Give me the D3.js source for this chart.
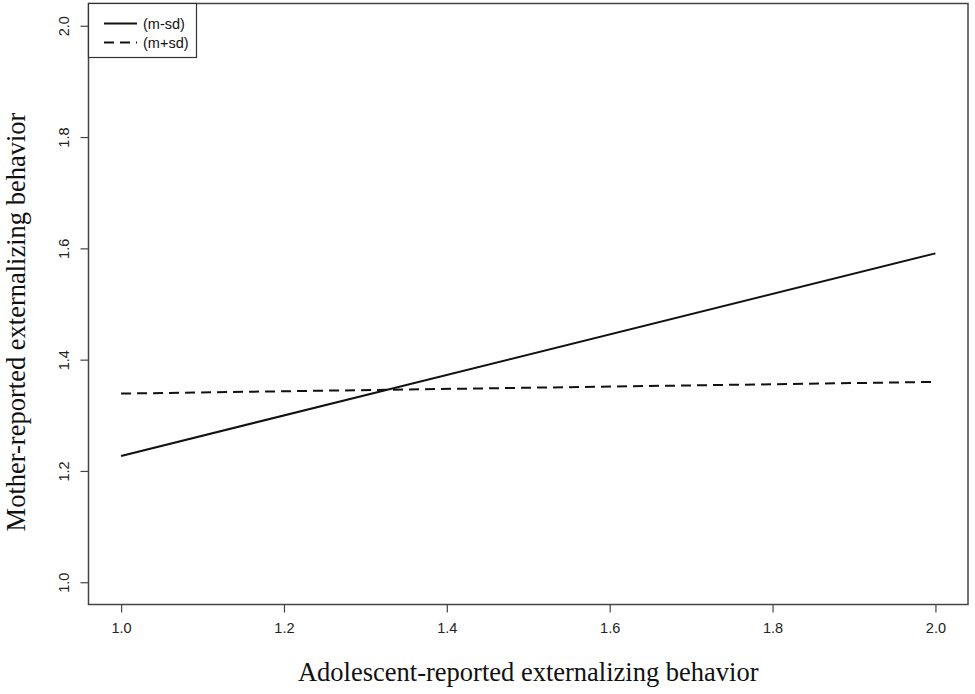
<!DOCTYPE html>
<html>
<head>
<meta charset="utf-8">
<style>
  body { margin: 0; background: #fff; }
  svg { display: block; }
</style>
</head>
<body>
<script src="https://d3js.org/d3.v7.min.js"></script>
<script>
// DATA - simple slopes at the two moderator levels
var xEnds = [1.0, 2.0];
var lowSD = [1.227, 1.591];   // (m-sd)
var highSD = [1.339, 1.360];  // (m+sd)
var seriesNames = ["(m-sd)", "(m+sd)"];
var xTicks = [1.0, 1.2, 1.4, 1.6, 1.8, 2.0];
var yTicks = [1.0, 1.2, 1.4, 1.6, 1.8, 2.0];

var width = 975, height = 694;
var box = {left: 88.5, right: 968, top: 3.5, bottom: 604.5};

var svg = d3.select("body").append("svg")
  .attr("width", width)
  .attr("height", height);

// R style: 4% padding each side of the data range
var x = d3.scaleLinear().domain([0.96, 2.04]).range([box.left, box.right]);
var y = d3.scaleLinear().domain([0.96, 2.04]).range([box.bottom, box.top]);

// x axis ticks, no domain line (box drawn separately)
var xAxis = svg.append("g")
  .attr("transform", "translate(0," + box.bottom + ")")
  .call(d3.axisBottom(x).tickValues(xTicks).tickFormat(d3.format(".1f")).tickSize(8).tickPadding(10));
xAxis.select(".domain").remove();
xAxis.selectAll("line").attr("stroke", "#444").attr("stroke-width", 1.2);
xAxis.selectAll("text")
  .attr("font-family", "Liberation Sans, Arial, sans-serif")
  .attr("font-size", 14.5)
  .attr("fill", "#222");

// y axis, labels rotated like R's default las=0
var yAxis = svg.append("g")
  .attr("transform", "translate(" + box.left + ",0)")
  .call(d3.axisLeft(y).tickValues(yTicks).tickFormat(d3.format(".1f")).tickSize(8));
yAxis.select(".domain").remove();
yAxis.selectAll("line").attr("stroke", "#444").attr("stroke-width", 1.2);
yAxis.selectAll("text")
  .attr("font-family", "Liberation Sans, Arial, sans-serif")
  .attr("font-size", 14.5)
  .attr("fill", "#222")
  .attr("x", null).attr("dy", null)
  .attr("text-anchor", "middle")
  .attr("transform", "translate(-20,0) rotate(-90)");

// plot box
svg.append("rect")
  .attr("x", box.left).attr("y", box.top)
  .attr("width", box.right - box.left).attr("height", box.bottom - box.top)
  .attr("fill", "none").attr("stroke", "#444").attr("stroke-width", 1.5);

// the two lines
var line = d3.line()
  .x(function(d) { return x(d[0]); })
  .y(function(d) { return y(d[1]); });

svg.append("path")
  .datum(d3.zip(xEnds, lowSD))
  .attr("d", line)
  .attr("fill", "none").attr("stroke", "#111").attr("stroke-width", 2);

svg.append("path")
  .datum(d3.zip(xEnds, highSD))
  .attr("d", line)
  .attr("fill", "none").attr("stroke", "#111").attr("stroke-width", 2)
  .attr("stroke-dasharray", "10,6");

// legend
var leg = svg.append("g");
leg.append("rect")
  .attr("x", box.left).attr("y", box.top)
  .attr("width", 108).attr("height", 54)
  .attr("fill", "#fff").attr("stroke", "#333").attr("stroke-width", 1.2);
seriesNames.forEach(function(name, i) {
  var ly = 23.5 + i * 19;
  leg.append("line")
    .attr("x1", 104).attr("x2", 137).attr("y1", ly).attr("y2", ly)
    .attr("stroke", "#111").attr("stroke-width", 2)
    .attr("stroke-dasharray", i === 1 ? "10,6" : null);
  leg.append("text")
    .attr("x", 143).attr("y", ly + 5)
    .attr("font-family", "Liberation Sans, Arial, sans-serif")
    .attr("font-size", 14.5)
    .attr("fill", "#111")
    .text(name);
});

// axis titles
svg.append("text")
  .attr("x", (box.left + box.right) / 2).attr("y", 681)
  .attr("text-anchor", "middle")
  .attr("font-family", "Liberation Serif, Times New Roman, serif")
  .attr("font-size", 26.5)
  .attr("fill", "#111")
  .text("Adolescent-reported externalizing behavior");

svg.append("text")
  .attr("transform", "translate(25," + ((box.top + box.bottom) / 2 + 18) + ") rotate(-90)")
  .attr("text-anchor", "middle")
  .attr("font-family", "Liberation Serif, Times New Roman, serif")
  .attr("font-size", 26.5)
  .attr("fill", "#111")
  .text("Mother-reported externalizing behavior");
</script>
</body>
</html>
